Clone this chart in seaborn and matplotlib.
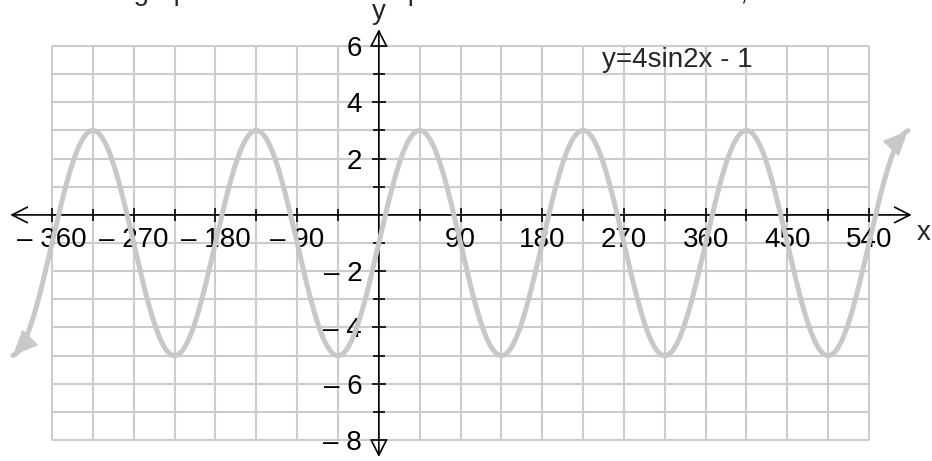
import numpy as np
import pandas as pd
import matplotlib
matplotlib.use("Agg")
import matplotlib.pyplot as plt
import seaborn as sns

# plotted function: y = A sin(B x) + C, x in degrees
AMPLITUDE = 4
FREQUENCY = 2
SHIFT = -1
X_START = -403
X_END = 583

X_TICKS = [-360, -270, -180, -90, 90, 180, 270, 360, 450, 540]
X_TICK_LABELS = ["\u2013 360", "\u2013 270", "\u2013 180", "\u2013 90",
                 "90", "180", "270", "360", "450", "540"]
Y_TICKS = [-8, -6, -4, -2, 2, 4, 6]
Y_TICK_LABELS = ["\u2013 8", "\u2013 6", "\u2013 4", "\u2013 2", "2", "4", "6"]

GRID_X = np.arange(-360, 541, 45)
GRID_Y = np.arange(-8, 7, 1)

CURVE_LABEL = "y=4sin2x - 1"
HEADER = "Sketch the graph of the functions plotted onto the same axes, then label it."

CURVE_COLOR = "#c8c8c8"
GRID_COLOR = "#cccccc"

sns.set_theme(style="white")
plt.rcParams["font.family"] = ["Liberation Sans", "DejaVu Sans"]

x = np.linspace(X_START, X_END, 2000)
df = pd.DataFrame({"x": x, "y": AMPLITUDE * np.sin(np.radians(FREQUENCY * x)) + SHIFT})

fig = plt.figure(figsize=(9.32, 4.61), dpi=100)
ax = fig.add_axes([0, 0, 1, 1])
ax.set_xlim(-417.3, 609.4)
ax.set_ylim(-8.745, 7.637)

for s in ax.spines.values():
    s.set_visible(False)
ax.spines["left"].set_position("zero")
ax.spines["bottom"].set_position("zero")

# bounded grid
ax.vlines(GRID_X, GRID_Y.min(), GRID_Y.max(), color=GRID_COLOR, lw=1.5, zorder=0.5)
ax.hlines(GRID_Y, GRID_X.min(), GRID_X.max(), color=GRID_COLOR, lw=1.5, zorder=0.5)

# axes with arrows
axis_arrow = dict(arrowstyle="<->,head_length=0.55,head_width=0.28",
                  color="black", lw=1.2, mutation_scale=20, shrinkA=0, shrinkB=0)
ax.annotate("", xy=(587, 0), xytext=(-406, 0), arrowprops=axis_arrow, zorder=1.5)
ax.annotate("", xy=(0, 6.6), xytext=(0, -8.6), arrowprops=axis_arrow, zorder=1.5)

ax.set_xticks(X_TICKS, X_TICK_LABELS)
ax.set_xticks([v for v in GRID_X if v % 90 != 0], minor=True)
ax.set_yticks(Y_TICKS, Y_TICK_LABELS)
ax.set_yticks([v for v in GRID_Y if v % 2 != 0], minor=True)
ax.tick_params(which="major", direction="inout", length=10, width=1.2,
               color="black", labelsize=20, labelcolor="black")
ax.tick_params(which="minor", direction="inout", length=8, width=1.2, color="black")
ax.tick_params(axis="x", which="major", pad=4)
ax.tick_params(axis="y", which="major", pad=7)
ax.tick_params(bottom=True, left=True, which="both")
ax.xaxis.set_zorder(1)
ax.yaxis.set_zorder(1)

sns.lineplot(data=df, x="x", y="y", ax=ax, color=CURVE_COLOR, linewidth=3.6,
             sort=False, estimator=None, zorder=3)
ax.set_xlabel("")
ax.set_ylabel("")

# arrow heads at the ends of the curve
head = dict(arrowstyle="-|>,head_length=0.9,head_width=0.4", color=CURVE_COLOR,
            lw=0, mutation_scale=20, shrinkA=0, shrinkB=0)
ax.annotate("", xy=(df.x.iloc[0], df.y.iloc[0]), xytext=(df.x.iloc[20], df.y.iloc[20]),
            arrowprops=head, zorder=3)
ax.annotate("", xy=(df.x.iloc[-1], df.y.iloc[-1]), xytext=(df.x.iloc[-21], df.y.iloc[-21]),
            arrowprops=head, zorder=3)

ax.text(245.6, 5.26, CURVE_LABEL, fontsize=20, ha="left", va="baseline", zorder=4)
ax.text(0, 6.95, "y", fontsize=20, ha="center", va="baseline", zorder=4)
ax.text(600.6, -0.89, "x", fontsize=20, ha="center", va="baseline", zorder=4)

fig.text(-5 / 932, 1.0, HEADER, fontsize=20, ha="left", va="baseline")

fig.savefig("out.png", dpi=100)
